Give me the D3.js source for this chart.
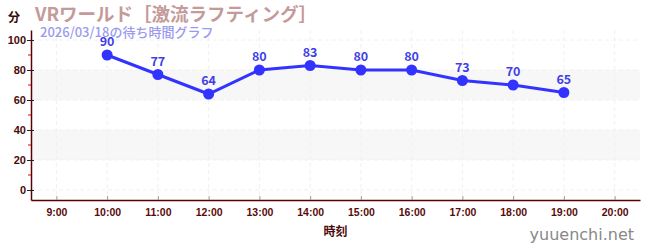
<!DOCTYPE html>
<html>
<head>
<meta charset="utf-8">
<script src="https://cdn.jsdelivr.net/npm/d3@7"></script>
<style>
  body { margin: 0; background: #fff; }
  svg { display: block; font-family: "Noto Sans CJK JP", "Noto Sans", sans-serif; }
</style>
</head>
<body>
<svg id="drawing_region"></svg>
<script>
const hours = [10, 11, 12, 13, 14, 15, 16, 17, 18, 19];
const waits = [90, 77, 64, 80, 83, 80, 80, 73, 70, 65];
const xTicks = [9, 10, 11, 12, 13, 14, 15, 16, 17, 18, 19, 20];
const yTicks = [0, 20, 40, 60, 80, 100];
const yMinorTicks = [10, 30, 50, 70, 90];
const bands = [[20, 40], [60, 80]];

const width = 650, height = 250;
const margin = {top: 30, right: 10, bottom: 50, left: 31};
const inner_width = width - margin.left - margin.right;
const inner_height = height - margin.top - margin.bottom;

const svg = d3.select('#drawing_region')
    .attr('width', width)
    .attr('height', height);

const chart = svg.append('g')
    .attr('transform', `translate(${margin.left}, ${margin.top})`);

const xscale = d3.scaleLinear().domain([8.5, 20.5]).range([0, inner_width]);
const yscale = d3.scaleLinear().domain([-6.67, 106.67]).range([inner_height, 0]);

// bands
chart.selectAll('.band')
    .data(bands)
    .enter()
    .append('rect')
    .attr('x', 0)
    .attr('width', inner_width)
    .attr('y', d => yscale(d[1]))
    .attr('height', d => yscale(d[0]) - yscale(d[1]))
    .attr('fill', '#f7f7f7');

// grid
chart.selectAll('.hgrid')
    .data(yTicks)
    .enter()
    .append('line')
    .attr('x1', 0).attr('x2', inner_width)
    .attr('y1', d => yscale(d)).attr('y2', d => yscale(d))
    .attr('stroke', '#f0f0f0')
    .attr('stroke-dasharray', '4,3');

chart.selectAll('.vgrid')
    .data(xTicks)
    .enter()
    .append('line')
    .attr('y1', 0).attr('y2', inner_height)
    .attr('x1', d => xscale(d)).attr('x2', d => xscale(d))
    .attr('stroke', '#f0f0f0')
    .attr('stroke-dasharray', '4,3');

// axes
const xaxis = d3.axisBottom(xscale)
    .tickValues(xTicks)
    .tickSize(4)
    .tickSizeOuter(0)
    .tickFormat(d => d + ':00');

const yaxis = d3.axisLeft(yscale)
    .tickValues(yTicks)
    .tickSize(4)
    .tickSizeOuter(0);

const xg = chart.append('g')
    .attr('transform', `translate(0, ${inner_height})`)
    .call(xaxis);
xg.select('.domain').attr('stroke', '#5a0000').attr('stroke-width', 1.5);
xg.selectAll('.tick line').attr('stroke', '#999').attr('y1', -4).attr('y2', 0);
xg.selectAll('.tick text')
    .attr('fill', '#5a0a0a')
    .attr('font-size', '10.5px')
    .attr('font-weight', 'bold')
    .attr('dy', '0.9em');

const yg = chart.append('g').call(yaxis);
yg.select('.domain').attr('stroke', '#5a0000').attr('stroke-width', 1.5);
yg.selectAll('.tick line').attr('stroke', '#222').attr('x1', -4).attr('x2', 3);
yg.selectAll('.tick text')
    .attr('fill', '#4a0a0a')
    .attr('font-size', '11px')
    .attr('font-weight', 'bold')
    .attr('x', -5);

chart.selectAll('.minor')
    .data(yMinorTicks)
    .enter()
    .append('line')
    .attr('x1', -3).attr('x2', 0)
    .attr('y1', d => yscale(d)).attr('y2', d => yscale(d))
    .attr('stroke', '#e00');

// line + points
const line = d3.line()
    .x((d, i) => xscale(hours[i]))
    .y(d => yscale(d));

chart.append('path')
    .datum(waits)
    .attr('d', line)
    .attr('fill', 'none')
    .attr('stroke', '#3333ff')
    .attr('stroke-width', 3);

chart.selectAll('.pt')
    .data(waits)
    .enter()
    .append('circle')
    .attr('cx', (d, i) => xscale(hours[i]))
    .attr('cy', d => yscale(d))
    .attr('r', 5.5)
    .attr('fill', '#3333ff');

chart.selectAll('.lbl')
    .data(waits)
    .enter()
    .append('text')
    .attr('x', (d, i) => xscale(hours[i]))
    .attr('y', d => yscale(d) - 9)
    .attr('text-anchor', 'middle')
    .attr('font-size', '12.5px')
    .attr('font-weight', 'bold')
    .attr('fill', '#3f3fe8')
    .text(d => d);

// titles
svg.append('text')
    .attr('x', 8).attr('y', 22)
    .attr('font-size', '12px')
    .attr('font-weight', 'bold')
    .attr('fill', '#3a0a0a')
    .text('分');

svg.append('text')
    .attr('x', 35).attr('y', 21)
    .attr('font-size', '18.5px')
    .attr('font-weight', 'bold')
    .attr('fill', '#c49a9a')
    .text('VRワールド［激流ラフティング］');

svg.append('text')
    .attr('x', 40).attr('y', 37)
    .attr('font-size', '13px')
    .attr('font-weight', '500')
    .attr('fill', '#9a9aee')
    .text('2026/03/18の待ち時間グラフ');

svg.append('text')
    .attr('x', margin.left + inner_width / 2)
    .attr('y', 236)
    .attr('text-anchor', 'middle')
    .attr('font-size', '12px')
    .attr('font-weight', 'bold')
    .attr('fill', '#4a0a0a')
    .text('時刻');

svg.append('text')
    .attr('x', 634).attr('y', 240)
    .attr('text-anchor', 'end')
    .attr('font-size', '16px')
    .attr('fill', '#888')
    .attr('font-family', '"DejaVu Sans", sans-serif')
    .text('yuuenchi.net');
</script>
</body>
</html>
